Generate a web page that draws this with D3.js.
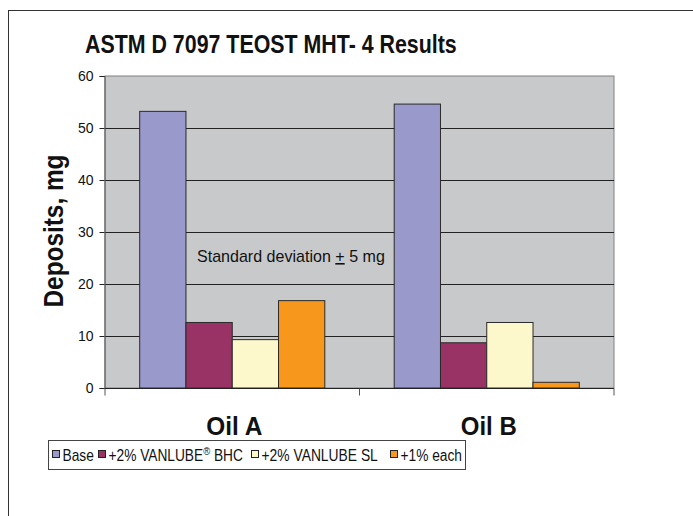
<!DOCTYPE html>
<html lang="en">
	<head>
		<meta charset="utf-8">
		<title>ASTM D 7097 TEOST MHT-4 Results</title>
		<script type="text/javascript" src="https://d3js.org/d3.v7.min.js"></script>
		<style type="text/css">
			body { margin: 0; background: #fff; }
			text { font-family: "Liberation Sans", Arial, sans-serif; fill: #111; }
		</style>
	</head>
	<body>
		<script type="text/javascript">

			//Data
			var oils = ["Oil A", "Oil B"];
			var series = ["Base", "+2% VANLUBE BHC", "+2% VANLUBE SL", "+1% each"];
			var base = [53.2, 54.6];
			var bhc = [12.6, 8.7];
			var sl = [9.3, 12.6];
			var each = [16.8, 1.1];
			var yTicks = [0, 10, 20, 30, 40, 50, 60];
			var colors = ["#9999cc", "#993366", "#fcf8cc", "#f7981d"];

			var values = [base, bhc, sl, each];

			//Width and height
			var w = 693;
			var h = 516;
			var plot = {left: 105, top: 76, right: 614, bottom: 388};
			var font = "'Liberation Sans', Arial, sans-serif";

			var svg = d3.select("body")
			.append("svg")
			.attr("width", w)
			.attr("height", h);

			//squeeze a text node horizontally so it fills [x0, x1]
			function fit(sel, x0, x1) {
				var bb = sel.node().getBBox();
				var k = (x1 - x0) / bb.width;
				sel.attr("transform", "translate(" + x0 + ",0) scale(" + k + ",1) translate(" + (-bb.x) + ",0)");
			}

			//Outer frame (runs off the page)
			svg.append("rect")
			.attr("x", 8.5).attr("y", 10.5)
			.attr("width", 720).attr("height", 540)
			.attr("fill", "none")
			.attr("stroke", "#333");

			//Title
			var title = svg.append("text")
			.attr("x", 0).attr("y", 53)
			.attr("font-size", 25)
			.attr("font-weight", "bold")
			.text("ASTM D 7097 TEOST MHT- 4 Results");
			fit(title, 85, 457);

			//Scales
			var x0 = d3.scaleBand()
			.domain(oils)
			.range([plot.left, plot.right]);

			var x1 = d3.scaleBand()
			.domain(series)
			.range([0, x0.bandwidth()])
			.paddingInner(0)
			.paddingOuter(0.75);

			var y = d3.scaleLinear()
			.domain([0, 60])
			.range([plot.bottom, plot.top]);

			//Plot area
			svg.append("rect")
			.attr("x", plot.left).attr("y", plot.top)
			.attr("width", plot.right - plot.left)
			.attr("height", plot.bottom - plot.top)
			.attr("fill", "#c8c9cb")
			.attr("stroke", "#808080");

			//Gridlines
			svg.append("g")
			.selectAll("line")
			.data(yTicks.filter(function(d) { return d > 0 && d < 60; }))
			.enter()
			.append("line")
			.attr("x1", plot.left).attr("x2", plot.right)
			.attr("y1", function(d) { return Math.round(y(d)) + 0.5; })
			.attr("y2", function(d) { return Math.round(y(d)) + 0.5; })
			.attr("stroke", "#222");

			//Bars
			series.forEach(function(s, si) {
				svg.append("g")
				.selectAll("rect")
				.data(values[si])
				.enter()
				.append("rect")
				.attr("x", function(d, i) { return x0(oils[i]) + x1(s); })
				.attr("y", function(d) { return y(d); })
				.attr("width", x1.bandwidth())
				.attr("height", function(d) { return plot.bottom - y(d); })
				.attr("fill", colors[si])
				.attr("stroke", "#2a2a2a")
				.attr("stroke-width", 1);
			});

			//Y axis
			var yAxis = d3.axisLeft(y)
			.tickValues(yTicks)
			.tickSize(5)
			.tickPadding(6);

			var gy = svg.append("g")
			.attr("transform", "translate(" + (plot.left - 0.5) + ",0)")
			.call(yAxis);
			gy.select(".domain").attr("stroke", "#555");
			gy.selectAll(".tick line").attr("stroke", "#222");
			gy.selectAll("text")
			.attr("font-size", 14)
			.attr("font-family", font)
			.attr("fill", "#222");

			//X axis line and ticks
			var gx = svg.append("g")
			.attr("transform", "translate(0," + (plot.bottom + 0.5) + ")");
			gx.append("line")
			.attr("x1", plot.left).attr("x2", plot.right)
			.attr("stroke", "#222");
			gx.selectAll("line.t")
			.data([plot.left, x0("Oil B"), plot.right])
			.enter()
			.append("line")
			.attr("class", "t")
			.attr("x1", function(d) { return d; })
			.attr("x2", function(d) { return d; })
			.attr("y1", 0).attr("y2", 7)
			.attr("stroke", "#555");

			//Category labels
			svg.append("g")
			.selectAll("text")
			.data(oils)
			.enter()
			.append("text")
			.attr("x", function(d) { return x0(d) + x0.bandwidth() / 2 + 2; })
			.attr("y", 435)
			.attr("text-anchor", "middle")
			.attr("font-size", 25)
			.attr("font-weight", "bold")
			.attr("textLength", 56)
			.attr("lengthAdjust", "spacingAndGlyphs")
			.text(function(d) { return d; });

			//Y axis title
			svg.append("text")
			.attr("transform", "translate(63,231) rotate(-90)")
			.attr("text-anchor", "middle")
			.attr("font-size", 27)
			.attr("font-weight", "bold")
			.attr("textLength", 153)
			.attr("lengthAdjust", "spacingAndGlyphs")
			.text("Deposits, mg");

			//Annotation
			var note = svg.append("text")
			.attr("x", 0).attr("y", 262)
			.attr("font-size", 16)
			.attr("fill", "#222");
			note.append("tspan").text("Standard deviation ");
			note.append("tspan").attr("text-decoration", "underline").text("+");
			note.append("tspan").text(" 5 mg");
			fit(note, 197, 385);

			//Legend
			var legendX = [52, 98, 251, 390];
			var legendEnd = [94, 243, 378, 462];
			svg.append("rect")
			.attr("x", 48.5).attr("y", 440.5)
			.attr("width", 417).attr("height", 29)
			.attr("fill", "#fff")
			.attr("stroke", "#444");

			var lg = svg.append("g")
			.selectAll("g")
			.data(series)
			.enter()
			.append("g");

			lg.append("rect")
			.attr("x", function(d, i) { return legendX[i] + 0.5; })
			.attr("y", 450.5)
			.attr("width", 7).attr("height", 7)
			.attr("fill", function(d, i) { return colors[i]; })
			.attr("stroke", "#222");

			lg.append("text")
			.attr("x", 0).attr("y", 461)
			.attr("font-size", 16)
			.attr("fill", "#222")
			.each(function(d, i) {
				var t = d3.select(this);
				if (d === "+2% VANLUBE BHC") {
					t.append("tspan").text("+2% VANLUBE");
					t.append("tspan").attr("font-size", 11).attr("dy", -6).text("®");
					t.append("tspan").attr("dy", 6).text(" BHC");
				} else {
					t.text(d);
				}
				fit(t, legendX[i] + 10.5, legendEnd[i]);
			});

		</script>
	</body>
</html>
